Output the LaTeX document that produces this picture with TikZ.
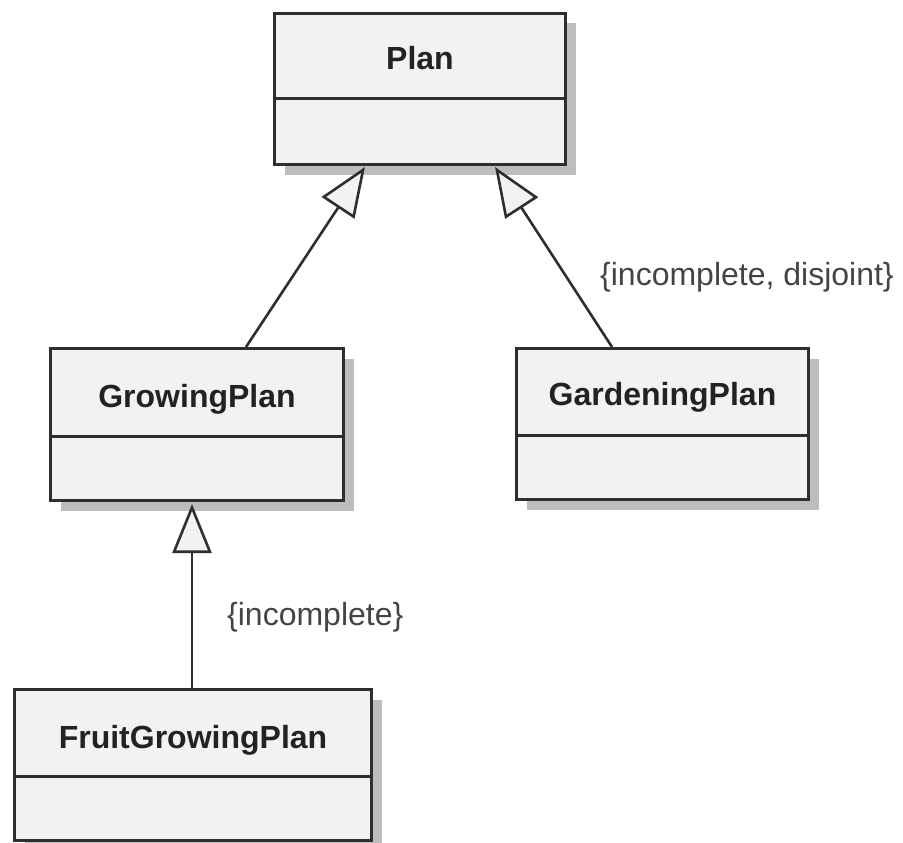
\documentclass[tikz,border=0pt]{standalone}
\usepackage{fontspec}
\setmainfont{Liberation Sans}
\usetikzlibrary{arrows.meta,shadows,calc}

\definecolor{boxfill}{HTML}{F2F2F2}
\definecolor{boxline}{HTML}{2E2E2E}
\definecolor{shadowgray}{HTML}{BDBDBD}
\definecolor{nametext}{HTML}{222222}
\definecolor{notetext}{HTML}{444444}

\tikzset{
  classbox/.style={draw=boxline, line width=3pt, fill=boxfill, rectangle,
    inner sep=0pt, anchor=north west,
    drop shadow={shadow xshift=10pt, shadow yshift=-10pt, fill=shadowgray, opacity=1}},
  classname/.style={anchor=base, text=nametext, inner sep=0pt,
    font=\fontsize{32}{38}\selectfont\bfseries},
  divider/.style={draw=boxline, line width=3pt},
  generalization/.style={draw=boxline, line width=2.6pt,
    -{Triangle[length=49pt, width=39pt, fill=boxfill, line join=miter]}},
  constraint/.style={anchor=base west, text=notetext, inner sep=0pt,
    font=\fontsize{32}{38}\selectfont},
}

\begin{document}
\begin{tikzpicture}[x=1pt, y=-1pt]
  \useasboundingbox (0,0) rectangle (903,843);

  % class boxes: outline with name compartment and empty attribute compartment
  \node[classbox, minimum width=291pt, minimum height=151pt] (plan) at (273,12) {};
  \draw[divider] ($(plan.north west)+(0,87)$) -- ($(plan.north east)+(0,87)$);
  \node[classname] (plantitle) at ($(plan.north)+(0,58)$) {Plan};

  \node[classbox, minimum width=293pt, minimum height=152pt] (growing) at (49,347) {};
  \draw[divider] ($(growing.north west)+(0,89)$) -- ($(growing.north east)+(0,89)$);
  \node[classname] (growingtitle) at ($(growing.north)+(0,60)$) {GrowingPlan};

  \node[classbox, minimum width=292pt, minimum height=151pt] (gardening) at (515,347) {};
  \draw[divider] ($(gardening.north west)+(0,88)$) -- ($(gardening.north east)+(0,88)$);
  \node[classname] (gardeningtitle) at ($(gardening.north)+(0,58)$) {GardeningPlan};

  \node[classbox, minimum width=357pt, minimum height=151pt] (fruit) at (13,688) {};
  \draw[divider] ($(fruit.north west)+(0,88)$) -- ($(fruit.north east)+(0,88)$);
  \node[classname] (fruittitle) at ($(fruit.north)+(0,60)$) {FruitGrowingPlan};

  % attachment points of the generalization connectors
  \coordinate (planleft)  at ($(plan.south west)+(92,1)$);
  \coordinate (planright) at ($(plan.south west)+(222,1)$);
  \coordinate (growingtop) at ($(growing.north west)+(197,0)$);
  \coordinate (growingbot) at ($(growing.south west)+(143,2)$);
  \coordinate (gardeningtop) at ($(gardening.north west)+(97,0)$);
  \coordinate (fruittop) at ($(fruit.north west)+(179,0)$);

  % generalizations
  \draw[generalization] (growingtop) -- (planleft);
  \draw[generalization] (gardeningtop) -- (planright);
  \draw[generalization] (fruittop) -- (growingbot);

  % constraints on the generalization sets
  \node[constraint] (disjointnote) at (600,285) {\{incomplete, disjoint\}};
  \node[constraint] (incompletenote) at (227,625) {\{incomplete\}};
\end{tikzpicture}
\end{document}
